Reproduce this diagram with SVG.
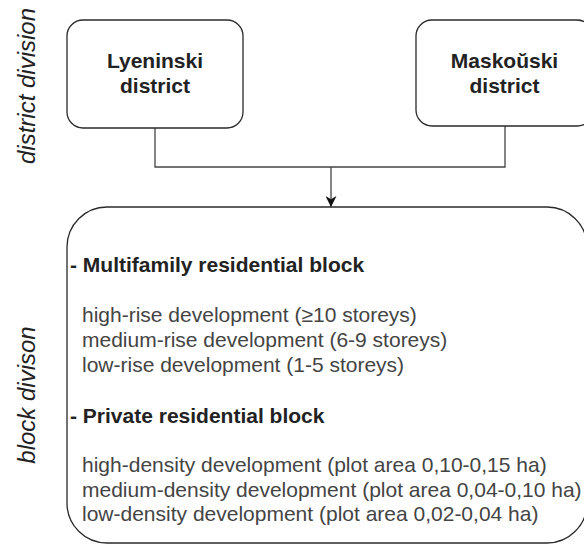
<svg xmlns="http://www.w3.org/2000/svg" width="584" height="546" viewBox="0 0 584 546">
<defs>
<style>
.box{fill:#fff;stroke:#2a2a2a;stroke-width:1.3}
.conn{fill:none;stroke:#444;stroke-width:1.3}
.bt{font-family:"Liberation Sans",Arial,sans-serif;font-weight:bold;font-size:21px;fill:#222;text-anchor:middle}
.hd{font-family:"Liberation Sans",Arial,sans-serif;font-weight:bold;font-size:21px;fill:#222}
.tx{font-family:"Liberation Sans",Arial,sans-serif;font-size:21px;fill:#444}
.side{font-family:"Liberation Sans",Arial,sans-serif;font-style:italic;font-size:24px;fill:#222;text-anchor:middle}
</style>
<marker id="arr" viewBox="0 0 10 10" refX="10" refY="5" markerWidth="11" markerHeight="11" markerUnits="userSpaceOnUse" orient="auto">
<path d="M0,0 L10,5 L0,10 L3,5 Z" fill="#111"/>
</marker>
</defs>
<rect width="584" height="546" fill="#fff"/>
<g id="label-district">
<text class="side" transform="translate(35,86) rotate(-90)">district division</text>
</g>
<g id="label-block">
<text class="side" transform="translate(35,395) rotate(-90)">block divison</text>
</g>
<g id="connectors">
<polyline class="conn" points="155,128 155,167 505,167 505,126"/>
<line class="conn" x1="331" y1="167" x2="331" y2="207" stroke="#111" marker-end="url(#arr)"/>
</g>
<g id="lyeninski">
<rect class="box" x="67" y="20" width="176" height="108" rx="16"/>
<text class="bt" x="155" y="68">Lyeninski</text>
<text class="bt" x="155" y="93">district</text>
</g>
<g id="maskouski">
<rect class="box" x="416" y="20" width="177" height="106" rx="16"/>
<text class="bt" x="504.5" y="68">Maskoŭski</text>
<text class="bt" x="504.5" y="93">district</text>
</g>
<g id="blocks">
<rect class="box" x="67" y="207" width="520" height="336" rx="40"/>
<text class="hd" x="70" y="272">- Multifamily residential block</text>
<text class="tx" x="82" y="322">high-rise development (≥10 storeys)</text>
<text class="tx" x="82" y="347">medium-rise development (6-9 storeys)</text>
<text class="tx" x="82" y="372">low-rise development (1-5 storeys)</text>
<text class="hd" x="70" y="423">- Private residential block</text>
<text class="tx" x="82" y="472">high-density development (plot area 0,10-0,15 ha)</text>
<text class="tx" x="82" y="497">medium-density development (plot area 0,04-0,10 ha)</text>
<text class="tx" x="82" y="521">low-density development (plot area 0,02-0,04 ha)</text>
</g>
</svg>
